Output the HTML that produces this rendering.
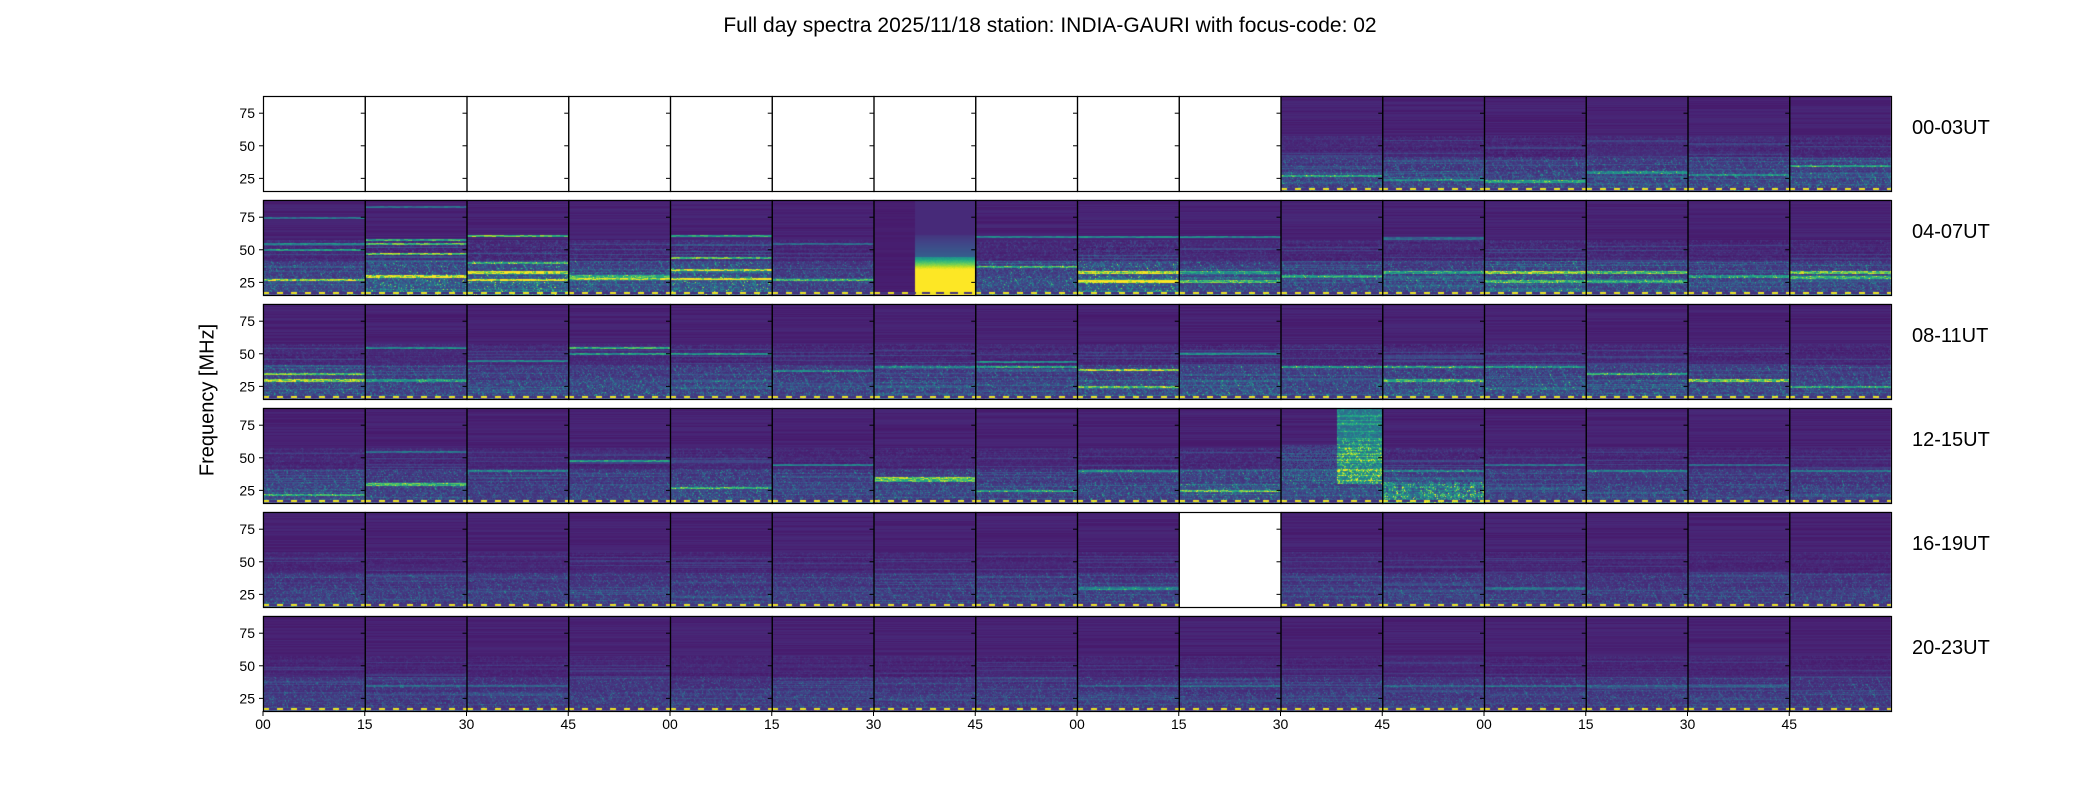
<!DOCTYPE html>
<html><head><meta charset="utf-8">
<style>
body{margin:0;background:#fff;}
#wrap{position:relative;width:2100px;height:800px;overflow:hidden;font-family:"Liberation Sans","DejaVu Sans",sans-serif;}
canvas{position:absolute;left:0;top:0;}
.t{position:absolute;color:#000;white-space:nowrap;}
</style></head>
<body>
<div id="wrap">
<div class="t" style="left:0;width:2100px;text-align:center;top:14px;font-size:21px;">Full day spectra 2025/11/18 station: INDIA-GAURI with focus-code: 02</div>
<div class="t" style="left:208px;top:400px;font-size:20px;transform:translate(-50%,-50%) rotate(-90deg);">Frequency [MHz]</div>
<canvas id="cv" width="2100" height="800"></canvas>
<svg id="ax" width="2100" height="800" style="position:absolute;left:0;top:0"></svg>
</div>
<script>
// ---- data ----
const rowLabels=["00-03UT","04-07UT","08-11UT","12-15UT","16-19UT","20-23UT"];
const xTickLabels=["00","15","30","45","00","15","30","45","00","15","30","45","00","15","30","45"];
const yTicks=[25,50,75];
const freqMin=15.3, freqMax=88.2;
// 1 = no data (blank white panel)
const blank=[
[1,1,1,1,1,1,1,1,1,1,0,0,0,0,0,0],
[0,0,0,0,0,0,0,0,0,0,0,0,0,0,0,0],
[0,0,0,0,0,0,0,0,0,0,0,0,0,0,0,0],
[0,0,0,0,0,0,0,0,0,0,0,0,0,0,0,0],
[0,0,0,0,0,0,0,0,0,1,0,0,0,0,0,0],
[0,0,0,0,0,0,0,0,0,0,0,0,0,0,0,0]];
// activity level of the low band (15-40 MHz)
const lowLevel=[
[0,0,0,0,0,0,0,0,0,0,0.5,0.5,0.5,0.5,0.5,0.55],
[0.55,0.8,0.85,0.6,0.85,0.45,0.2,0.6,0.85,0.55,0.5,0.55,0.65,0.55,0.5,0.55],
[0.6,0.5,0.5,0.55,0.55,0.45,0.5,0.5,0.6,0.6,0.55,0.6,0.6,0.55,0.5,0.5],
[0.5,0.5,0.4,0.45,0.55,0.45,0.5,0.45,0.5,0.65,0.55,0.6,0.45,0.45,0.4,0.4],
[0.42,0.4,0.4,0.38,0.4,0.38,0.38,0.4,0.42,0,0.38,0.38,0.38,0.38,0.38,0.38],
[0.36,0.36,0.36,0.36,0.36,0.36,0.36,0.36,0.36,0.36,0.36,0.36,0.36,0.36,0.36,0.36]];
// bright horizontal bands: [freqMHz, strength]
const bands=[
[[],[],[],[],[],[],[],[],[],[],[[27,0.5]],[[24,0.4]],[[23,0.5]],[[30,0.35]],[[28,0.35]],[[35,0.45]]],
[[[27,0.8],[50,0.55],[55,0.45],[75,0.35]],[[30,0.85],[47,0.75],[55,0.75],[58,0.65],[83,0.35]],[[27,0.9],[33,0.85],[61,0.85],[40,0.55]],[[28,0.75],[30,0.55]],[[28,0.9],[35,0.85],[44,0.75],[61,0.65]],[[27,0.55],[55,0.3]],[],[[37,0.55],[60,0.45]],[[26,0.9],[33,0.75],[60,0.45]],[[26,0.55],[33,0.45],[60,0.45]],[[30,0.45]],[[33,0.45],[59,0.35]],[[33,0.85],[26,0.55]],[[33,0.65],[26,0.45]],[[30,0.45]],[[33,0.75],[29,0.55]]],
[[[30,0.75],[35,0.65]],[[55,0.45],[30,0.45]],[[45,0.45]],[[55,0.65],[50,0.55]],[[50,0.55]],[[37,0.35]],[[40,0.35]],[[40,0.55],[44,0.45]],[[38,0.75],[25,0.65]],[[50,0.45]],[[40,0.45]],[[40,0.55],[30,0.55]],[[40,0.45]],[[35,0.55]],[[30,0.75]],[[25,0.55]]],
[[[22,0.55]],[[30,0.65],[55,0.35]],[[40,0.35]],[[48,0.55]],[[27,0.55]],[[45,0.35]],[[35,0.75],[33,0.65]],[[25,0.45]],[[40,0.35]],[[25,0.65]],[],[[40,0.35]],[[45,0.35]],[[40,0.35]],[[45,0.3]],[[40,0.3]]],
[[],[],[],[],[],[],[],[],[[30,0.35]],[],[],[],[[30,0.25]],[],[],[]],
[[],[[35,0.2]],[[35,0.2]],[],[],[],[],[],[[35,0.2]],[[35,0.2]],[],[[35,0.2]],[[35,0.2]],[[35,0.2]],[[35,0.2]],[]]];

// ---- geometry ----
const X0=263, X1=1891, PW=(X1-X0)/16, PH=95, rowTops=[96,200,304,408,512,616];
const fy=(f,r)=>rowTops[r]+PH*(freqMax-f)/(freqMax-freqMin);
const stops=["#440154","#482475","#414487","#355f8d","#2a788e","#21918c","#22a884","#44bf70","#7ad151","#bddf26","#fde725"].map(h=>[parseInt(h.substr(1,2),16),parseInt(h.substr(3,2),16),parseInt(h.substr(5,2),16)]);
function vir(v){v=Math.max(0,Math.min(1,v))*10;const i=Math.min(9,Math.floor(v)),t=v-i,a=stops[i],b=stops[i+1];return [a[0]+(b[0]-a[0])*t,a[1]+(b[1]-a[1])*t,a[2]+(b[2]-a[2])*t];}
function hsh(a,b){let h=(a*374761393+b*668265263)^0x5bd1e995;h=Math.imul(h^(h>>>13),1274126177);h=h^(h>>>16);return (h>>>0)/4294967295;}

const cv=document.getElementById('cv'),ctx=cv.getContext('2d');
const img=ctx.createImageData(2100,800);
for(let r=0;r<6;r++)for(let c=0;c<16;c++){
  if(blank[r][c])continue;
  const x0=Math.round(X0+c*PW),x1=Math.round(X0+(c+1)*PW),y0=rowTops[r],y1=y0+PH;
  const L=lowLevel[r][c],B=bands[r][c];
  for(let y=y0;y<y1;y++){
    const f=freqMax-(y-y0)/PH*(freqMax-freqMin);
    const rowN=hsh(y*3+r,c*7+1);
    const rowBright=rowN>0.85?0.12:0;
    for(let x=x0;x<x1;x++){
      const fx=(x-x0)/(x1-x0);
      let v=0.07+0.05*rowN+(f<55?rowBright*L:0);
      const n=hsh(x*13+c,y*31+r);
      const n2=hsh((x>>1)*7+c*3,(y>>1)*11+r);
      // diagonal streak texture
      const diag=((x-x0)+(y1-y)*0.6+c*5)%14<1.2?1:0;
      if(f<42){ v+=L*(0.1+0.4*n*n2)*(f<30?1.2:0.85); if(n>0.95)v+=L*0.35; v+=diag*L*0.25*n2; }
      else if(f<58){ v+=L*0.2*n*n2; }
      for(const [bf,bs] of B){ const d=Math.abs(f-bf); if(d<0.9) v+=bs*(0.5+0.5*hsh(x>>2,y+c)); }
      // special events
      if(r===1&&c===6){ v=0.07+0.02*rowN; if(fx>0.4){ if(f<35)v=1; else if(f<45)v=1-(f-35)/10*0.55+0.05*n; else if(f<62)v=0.3-(f-45)/17*0.15; else v=0.12; } }
      if(r===3&&c===10){ if(fx>0.55&&f>30)v+=0.25+0.5*n*n2*(f<65?1:0.6)+(rowN>0.7?0.15:0); else if(f>30&&f<60)v+=0.25*n*L; }
      if(r===3&&c===11){ if(f<32)v+=0.2*hsh(x>>1,c)+0.35*n*n2; }
      if(y>=y1-3&&y<y1-1){ v=((x-x0)%14<6)?0.98:0.15; }
      const col=vir(v),i=(y*2100+x)*4;
      img.data[i]=col[0];img.data[i+1]=col[1];img.data[i+2]=col[2];img.data[i+3]=255;
    }
  }
}
ctx.putImageData(img,0,0);

// ---- axes ----
const NS='http://www.w3.org/2000/svg',svg=document.getElementById('ax');
function el(t,a){const e=document.createElementNS(NS,t);for(const k in a)e.setAttribute(k,a[k]);svg.appendChild(e);return e;}
for(let r=0;r<6;r++){
  for(let c=0;c<16;c++){
    const x=X0+c*PW;
    const p=el('rect',{x:x+0.5,y:rowTops[r]+0.5,width:PW,height:PH,fill:'none',stroke:'#000','stroke-width':1.2});
    
    
    yTicks.forEach(t=>{const yy=fy(t,r);el('line',{x1:x-4,x2:x,y1:yy,y2:yy,stroke:'#000','stroke-width':1});});
    if(r===5){el('line',{x1:x,x2:x,y1:rowTops[5]+PH,y2:rowTops[5]+PH+5,stroke:'#000','stroke-width':1});}
  }
  yTicks.forEach(t=>{
    const tx=el('text',{x:X0-8,y:fy(t,r)+5,'text-anchor':'end','font-size':14,'font-family':'Liberation Sans, sans-serif'});
    tx.textContent=t;
    
    
  });
  const rl=el('text',{x:1912,y:rowTops[r]+38,'font-size':20,'font-family':'Liberation Sans, sans-serif'});
  rl.textContent=rowLabels[r];
  
  
}
xTickLabels.forEach((lab,i)=>{
  const tx=el('text',{x:X0+i*PW,y:729,'text-anchor':'middle','font-size':14,'font-family':'Liberation Sans, sans-serif'});
  tx.textContent=lab;
  
  
});
</script>
</body></html>
